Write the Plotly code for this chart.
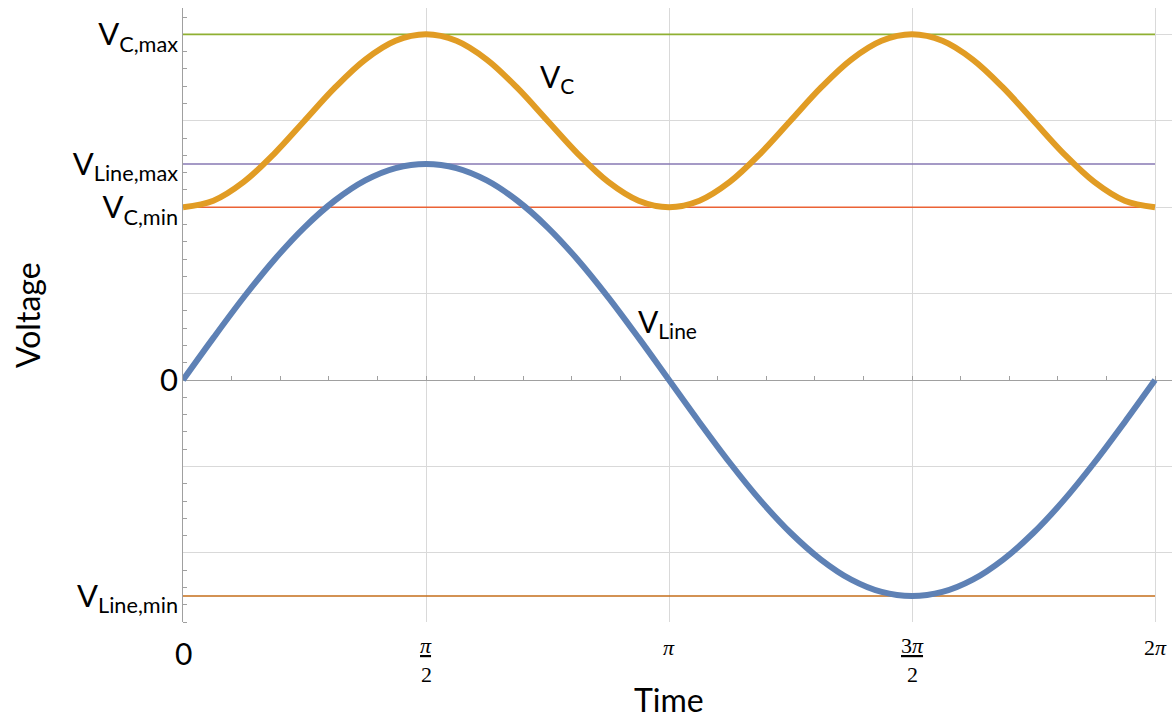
import numpy as np
import plotly.graph_objects as go

PI = np.pi

# Sample instants over one line period, expressed in multiples of pi
t_over_pi = [k / 16 for k in range(33)]
time = [f * PI for f in t_over_pi]

# Line voltage (normalised to its peak)
v_line = [0.000, 0.195, 0.383, 0.556, 0.707, 0.831, 0.924, 0.981, 1.000,
          0.981, 0.924, 0.831, 0.707, 0.556, 0.383, 0.195, 0.000,
          -0.195, -0.383, -0.556, -0.707, -0.831, -0.924, -0.981, -1.000,
          -0.981, -0.924, -0.831, -0.707, -0.556, -0.383, -0.195, 0.000]

# Capacitor voltage (rides between its min and max twice per period)
v_c = [0.800, 0.830, 0.917, 1.047, 1.200, 1.353, 1.483, 1.570, 1.600,
       1.570, 1.483, 1.353, 1.200, 1.047, 0.917, 0.830, 0.800,
       0.830, 0.917, 1.047, 1.200, 1.353, 1.483, 1.570, 1.600,
       1.570, 1.483, 1.353, 1.200, 1.047, 0.917, 0.830, 0.800]

# Reference levels
level_names = ["V<sub>C,max</sub>", "V<sub>Line,max</sub>", "V<sub>C,min</sub>", "V<sub>Line,min</sub>"]
level_values = [1.6, 1.0, 0.8, -1.0]
level_colors = ["#8FB032", "#8778B3", "#EB6235", "#C56E1A"]

# Axis tick labels
y_tick_vals = [1.6, 1.0, 0.8, 0.0, -1.0]
y_tick_text = ["V<sub>C,max</sub>", "V<sub>Line,max</sub>", "V<sub>C,min</sub>", "0", "V<sub>Line,min</sub>"]
x_grid_vals = [PI / 2, PI, 3 * PI / 2, 2 * PI]

X_RANGE = [0, 6.393]
Y_RANGE = [-1.12, 1.722]

FONT = "Lato"
MATH_FONT = "Liberation Serif"
AXIS_GRAY = "#a0a0a0"
GRID_GRAY = "#d9d9d9"

fig = go.Figure()

# horizontal reference levels (drawn beneath the curves)
for name, val, col in zip(level_names, level_values, level_colors):
    fig.add_trace(go.Scatter(
        x=[0, 2 * PI], y=[val, val], mode="lines",
        line=dict(color=col, width=1.6), hoverinfo="skip", showlegend=False,
        xaxis="x", yaxis="y"))

fig.add_trace(go.Scatter(
    x=time, y=v_line, mode="lines",
    line=dict(color="#5E81B5", width=6, shape="spline", smoothing=1.0),
    showlegend=False, xaxis="x2", yaxis="y2"))
fig.add_trace(go.Scatter(
    x=time, y=v_c, mode="lines",
    line=dict(color="#E19C24", width=6, shape="spline", smoothing=1.0),
    showlegend=False, xaxis="x2", yaxis="y2"))

zero_pos = (0 - Y_RANGE[0]) / (Y_RANGE[1] - Y_RANGE[0])

fig.update_layout(
    width=1174, height=724,
    margin=dict(l=183, r=2, t=8, b=102),
    paper_bgcolor="white", plot_bgcolor="white",
    font=dict(family=FONT, color="black"),
    xaxis=dict(range=X_RANGE, tickmode="array", tickvals=x_grid_vals,
               showticklabels=False, ticks="", showgrid=True, gridcolor=GRID_GRAY,
               gridwidth=1, zeroline=False, showline=False, fixedrange=True),
    # time axis drawn along the zero level
    xaxis2=dict(range=X_RANGE, overlaying="x", anchor="free", position=zero_pos,
                showline=True, linecolor=AXIS_GRAY, linewidth=1.3,
                tickmode="linear", tick0=0, dtick=PI / 10, ticks="inside",
                ticklen=4, tickcolor=AXIS_GRAY, showticklabels=False,
                showgrid=False, zeroline=False, layer="below traces", fixedrange=True),
    yaxis=dict(range=Y_RANGE, tickmode="array", tickvals=y_tick_vals, ticktext=y_tick_text,
               ticks="", showgrid=False, zeroline=False, showline=False,
               tickfont=dict(size=31, family=FONT), ticklabelstandoff=4, fixedrange=True),
    yaxis2=dict(range=Y_RANGE, overlaying="y", anchor="x", side="left",
                tickmode="linear", tick0=0, dtick=0.4, showticklabels=False, ticks="",
                showgrid=True, gridcolor=GRID_GRAY, gridwidth=1, zeroline=False,
                showline=True, linecolor=AXIS_GRAY, linewidth=1.3, layer="below traces",
                minor=dict(tickmode="linear", tick0=0, dtick=0.08, ticks="inside",
                           ticklen=4, tickcolor=AXIS_GRAY, showgrid=False),
                fixedrange=True),
)

ann = []
# time-axis labels
ann.append(dict(x=0, y=-0.0505, xref="x", yref="paper", text="0", showarrow=False,
                font=dict(size=30, family=FONT), xanchor="center", yanchor="middle"))
for xv, txt in [(PI, "<i>π</i>"), (2 * PI, "2<i>π</i>")]:
    ann.append(dict(x=xv, y=-0.042, xref="x", yref="paper", text=txt, showarrow=False,
                    font=dict(size=22, family=MATH_FONT), xanchor="center", yanchor="middle"))
for xv, num in [(PI / 2, "<i>π</i>"), (3 * PI / 2, "3<i>π</i>")]:
    ann.append(dict(x=xv, y=-0.039, xref="x", yref="paper", text="<u>" + num + "</u>",
                    showarrow=False, font=dict(size=22, family=MATH_FONT),
                    xanchor="center", yanchor="middle"))
    ann.append(dict(x=xv, y=-0.0863, xref="x", yref="paper", text="2", showarrow=False,
                    font=dict(size=22, family=MATH_FONT), xanchor="center", yanchor="middle"))

ann.append(dict(x=PI, y=-0.127, xref="x", yref="paper", text="Time", showarrow=False,
                font=dict(size=32, family=FONT), xanchor="center", yanchor="middle"))
ann.append(dict(x=-0.1577, y=0.5, xref="paper", yref="paper", text="Voltage", showarrow=False,
                textangle=-90, font=dict(size=32, family=FONT), xanchor="center", yanchor="middle"))

# curve labels
ann.append(dict(x=2.418, y=1.40, xref="x2", yref="y2", text="V<sub>C</sub>", showarrow=False,
                font=dict(size=30, family=FONT), xanchor="center", yanchor="middle"))
ann.append(dict(x=3.135, y=0.265, xref="x2", yref="y2", text="V<sub>Line</sub>", showarrow=False,
                font=dict(size=30, family=FONT), xanchor="center", yanchor="middle"))

fig.update_layout(annotations=ann)

fig.write_html("out.html")
